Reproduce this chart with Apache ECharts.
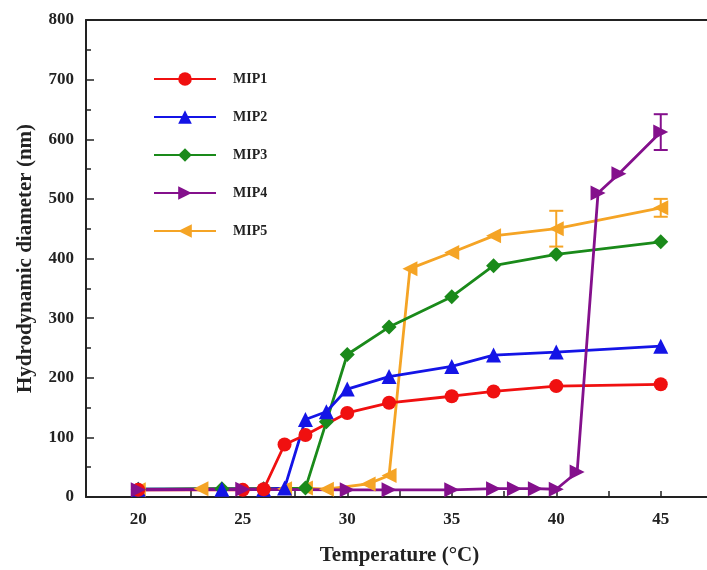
<!DOCTYPE html>
<html>
<head>
<meta charset="utf-8">
<script src="https://cdn.jsdelivr.net/npm/echarts@6/dist/echarts.min.js"></script>
<style>
  html, body { margin: 0; padding: 0; background: #fff; }
  #main { width: 707px; height: 570px; }
</style>
</head>
<body>
<div id="main"></div>
<script>
// temperature (°C) and hydrodynamic diameter (nm)
var tMIP1 = [20, 25, 26, 27, 28, 30, 32, 35, 37, 40, 45];
var dMIP1 = [12, 12, 13, 88, 104, 141, 158, 169, 177, 186, 189];

var tMIP2 = [20, 24, 26, 27, 28, 29, 30, 32, 35, 37, 40, 45];
var dMIP2 = [13, 13, 13, 15, 130, 143, 181, 202, 219, 238, 243, 253];

var tMIP3 = [20, 24, 26, 28, 29, 30, 32, 35, 37, 40, 45];
var dMIP3 = [13, 14, 14, 15, 126, 239, 285, 336, 388, 407, 428];

var tMIP4 = [20, 25, 30, 32, 35, 37, 38, 39, 40, 41, 42, 43, 45];
var dMIP4 = [12, 13, 12, 12, 12, 14, 14, 14, 13, 42, 510, 542, 612];

var tMIP5 = [20, 23, 27, 28, 29, 31, 32, 33, 35, 37, 40, 45];
var dMIP5 = [12, 14, 14, 15, 13, 22, 36, 383, 410, 438, 450, 485];

// error bars: [temperature, value, +/- error]
var errMIP4 = [[45, 612, 30]];
var errMIP5 = [[40, 450, 30], [45, 485, 15]];

var yTicks = [0, 100, 200, 300, 400, 500, 600, 700, 800];
var xLabels = [20, 25, 30, 35, 40, 45];

function pairs(xs, ys) {
  return xs.map(function (x, i) { return [x, ys[i]]; });
}

var serif = '"Liberation Serif", "DejaVu Serif", serif';
var chart = echarts.init(document.getElementById('main'));

function lineSeries(name, xs, ys, color, symbol, rotate) {
  return {
    name: name,
    type: 'line',
    data: pairs(xs, ys),
    symbol: symbol,
    symbolSize: symbol === 'circle' ? 14 : 15,
    symbolRotate: rotate || 0,
    lineStyle: { color: color, width: 2.8 },
    itemStyle: { color: color },
    z: 3
  };
}

function errSeries(data, color) {
  return {
    type: 'custom',
    data: data,
    z: 4,
    silent: true,
    renderItem: function (params, api) {
      var x = api.value(0), y = api.value(1), e = api.value(2);
      var top = api.coord([x, y + e]);
      var bot = api.coord([x, y - e]);
      var w = 7;
      return {
        type: 'group',
        children: [
          { type: 'line', shape: { x1: top[0], y1: top[1], x2: bot[0], y2: bot[1] }, style: { stroke: color, lineWidth: 2 } },
          { type: 'line', shape: { x1: top[0] - w, y1: top[1], x2: top[0] + w, y2: top[1] }, style: { stroke: color, lineWidth: 2 } },
          { type: 'line', shape: { x1: bot[0] - w, y1: bot[1], x2: bot[0] + w, y2: bot[1] }, style: { stroke: color, lineWidth: 2 } }
        ]
      };
    }
  };
}

var cRed = '#f01010', cBlue = '#1414e6', cGreen = '#1a8a1a', cPurple = '#84108c', cOrange = '#f5a425';

chart.setOption({
  backgroundColor: '#fff',
  animation: false,
  grid: { left: 86, top: 20, bottom: 73, right: -6, outerBoundsMode: 'none' },
  legend: {
    orient: 'vertical',
    left: 148,
    top: 67,
    itemWidth: 62,
    itemHeight: 17,
    itemGap: 24,
    data: ['MIP1', 'MIP2', 'MIP3', 'MIP4', 'MIP5'],
    textStyle: { fontFamily: serif, fontWeight: 'bold', fontSize: 14, color: '#222', padding: [0, 0, 0, 12] }
  },
  xAxis: [{
    type: 'value',
    min: 17.5,
    max: 47.5,
    interval: 2.5,
    name: 'Temperature (°C)',
    nameLocation: 'middle',
    nameGap: 48,
    nameTextStyle: { fontFamily: serif, fontWeight: 'bold', fontSize: 21, color: '#222' },
    axisLine: { lineStyle: { color: '#222', width: 2 } },
    axisTick: { inside: true, length: 6, lineStyle: { color: '#222', width: 1.5 } },
    axisLabel: {
      fontFamily: serif, fontWeight: 'bold', fontSize: 17, color: '#222', margin: 14,
      formatter: function (v) { return xLabels.indexOf(v) >= 0 ? String(v) : ''; }
    },
    splitLine: { show: false }
  }, {
    type: 'value',
    position: 'top',
    min: 17.5,
    max: 47.5,
    axisLine: { show: true, lineStyle: { color: '#222', width: 2 } },
    axisTick: { show: false },
    axisLabel: { show: false },
    splitLine: { show: false }
  }],
  yAxis: {
    type: 'value',
    min: yTicks[0],
    max: yTicks[yTicks.length - 1],
    interval: 100,
    name: 'Hydrodynamic diameter (nm)',
    nameLocation: 'middle',
    nameGap: 50,
    nameTextStyle: { fontFamily: serif, fontWeight: 'bold', fontSize: 21, color: '#222' },
    axisLine: { show: true, lineStyle: { color: '#222', width: 2 } },
    axisTick: { inside: true, length: 8, lineStyle: { color: '#222', width: 1.5 } },
    minorTick: { show: true, splitNumber: 2, length: 5, lineStyle: { color: '#222', width: 1.5 } },
    axisLabel: { fontFamily: serif, fontWeight: 'bold', fontSize: 17, color: '#222', margin: 12 },
    splitLine: { show: false }
  },
  series: [
    lineSeries('MIP5', tMIP5, dMIP5, cOrange, 'triangle', 90),
    lineSeries('MIP3', tMIP3, dMIP3, cGreen, 'diamond'),
    lineSeries('MIP2', tMIP2, dMIP2, cBlue, 'triangle'),
    lineSeries('MIP1', tMIP1, dMIP1, cRed, 'circle'),
    lineSeries('MIP4', tMIP4, dMIP4, cPurple, 'triangle', -90),
    errSeries(errMIP4, cPurple),
    errSeries(errMIP5, cOrange)
  ]
});
</script>
</body>
</html>
